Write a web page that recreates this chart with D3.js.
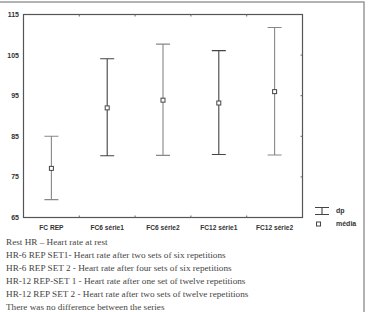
<!DOCTYPE html>
<html lang="pt">
<head>
  <meta charset="UTF-8">
  <script src="https://d3js.org/d3.v7.min.js"></script>
  <title>FC</title>
  <style>
    body { margin: 0; background: #fff; }
  </style>
</head>
<body>
  <svg width="372" height="312"></svg>
  <script>
    // data
    var categories = ["FC REP", "FC6 série1", "FC6 série2", "FC12 série1", "FC12 série2"];
    var means = [77.1, 92.0, 93.9, 93.2, 96.0];
    var lows = [69.4, 80.2, 80.3, 80.5, 80.4];
    var highs = [85.0, 104.1, 107.7, 106.1, 111.8];
    var yTicks = [65, 75, 85, 95, 105, 115];
    var notes = [
      "Rest HR \u2013 Heart rate at rest",
      "HR-6 REP SET1- Heart rate after two sets of six repetitions",
      "HR-6 REP SET 2 - Heart rate after four sets of six repetitions",
      "HR-12 REP-SET 1 - Heart rate after one set of twelve repetitions",
      "HR-12 REP SET 2 - Heart rate after two sets of twelve repetitions",
      "There was no difference between the series"
    ];
    var barColors = ["#888", "#444", "#888", "#444", "#888"];

    var svg = d3.select("svg");
    var plot = {left: 23.5, top: 14.5, right: 302.5, bottom: 217.5};

    // outer frame
    svg.append("path")
      .attr("d", "M0,2 H364 V312")
      .attr("fill", "none").attr("stroke", "#999").attr("stroke-width", 1.5);

    var x = d3.scaleBand().domain(categories).range([plot.left, plot.right]);
    var y = d3.scaleLinear().domain([65, 115]).range([plot.bottom, plot.top]);

    // plot box
    svg.append("rect")
      .attr("x", plot.left).attr("y", plot.top)
      .attr("width", plot.right - plot.left).attr("height", plot.bottom - plot.top)
      .attr("fill", "none").attr("stroke", "#555").attr("stroke-width", 1.2);

    // inner ticks at band edges (top & bottom) and on right side
    var edges = categories.slice(1).map(function(c){ return x(c); });
    svg.selectAll(".tb").data(edges).enter().append("line")
      .attr("x1", function(d){ return d; }).attr("x2", function(d){ return d; })
      .attr("y1", plot.top).attr("y2", plot.top + 2)
      .attr("stroke", "#666");
    svg.selectAll(".bb").data(edges).enter().append("line")
      .attr("x1", function(d){ return d; }).attr("x2", function(d){ return d; })
      .attr("y1", plot.bottom).attr("y2", plot.bottom - 2)
      .attr("stroke", "#666");
    svg.selectAll(".rt").data(yTicks.slice(1, -1)).enter().append("line")
      .attr("x1", plot.right).attr("x2", plot.right - 2)
      .attr("y1", function(d){ return y(d); }).attr("y2", function(d){ return y(d); })
      .attr("stroke", "#666");

    // y tick labels
    svg.selectAll(".yl").data(yTicks).enter().append("text")
      .attr("x", 19).attr("y", function(d){ return y(d); })
      .attr("dy", "0.35em").attr("text-anchor", "end")
      .attr("font-family", "Liberation Sans, Arial, sans-serif")
      .attr("font-weight", "bold").attr("font-size", 7).attr("fill", "#333")
      .text(function(d){ return d; });

    // x labels
    svg.selectAll(".xl").data(categories).enter().append("text")
      .attr("x", function(d){ return x(d) + x.bandwidth() / 2; })
      .attr("y", 228).attr("dy", "0.35em").attr("text-anchor", "middle")
      .attr("font-family", "Liberation Sans, Arial, sans-serif")
      .attr("font-weight", "bold").attr("font-size", 6.6).attr("fill", "#333")
      .text(function(d){ return d; });

    // error bars
    var cap = 7;
    var gs = svg.selectAll(".eb").data(categories).enter().append("g")
      .attr("transform", function(d){ return "translate(" + (x(d) + x.bandwidth() / 2) + ",0)"; });
    gs.append("path")
      .attr("d", function(d, i){
        return "M" + (-cap) + "," + y(highs[i]) + "H" + cap +
               "M0," + y(highs[i]) + "V" + y(lows[i]) +
               "M" + (-cap) + "," + y(lows[i]) + "H" + cap;
      })
      .attr("fill", "none").attr("stroke-width", 1.1)
      .attr("stroke", function(d, i){ return barColors[i]; });
    gs.append("rect")
      .attr("x", -2).attr("y", function(d, i){ return y(means[i]) - 2; })
      .attr("width", 4).attr("height", 4)
      .attr("fill", "#fff").attr("stroke", "#444").attr("stroke-width", 1);

    // legend
    var lg = svg.append("g");
    lg.append("path")
      .attr("d", "M315,207.5H329M322,207.5V214.5M315,214.5H329")
      .attr("fill", "none").attr("stroke", "#444").attr("stroke-width", 1.1);
    lg.append("rect").attr("x", 316.5).attr("y", 222).attr("width", 4).attr("height", 4)
      .attr("fill", "#fff").attr("stroke", "#444");
    lg.selectAll("text").data(["dp", "média"]).enter().append("text")
      .attr("x", 336).attr("y", function(d, i){ return 211 + i * 13; })
      .attr("dy", "0.35em")
      .attr("font-family", "Liberation Sans, Arial, sans-serif")
      .attr("font-weight", "bold").attr("font-size", 7).attr("fill", "#333")
      .text(function(d){ return d; });

    // footnotes
    svg.selectAll(".note").data(notes).enter().append("text")
      .attr("x", 6).attr("y", function(d, i){ return 241.7 + i * 13.05; })
      .attr("dy", "0.35em")
      .attr("font-family", "Liberation Serif, Times New Roman, serif")
      .attr("font-size", 9.2).attr("fill", "#444")
      .text(function(d){ return d; });
  </script>
</body>
</html>
